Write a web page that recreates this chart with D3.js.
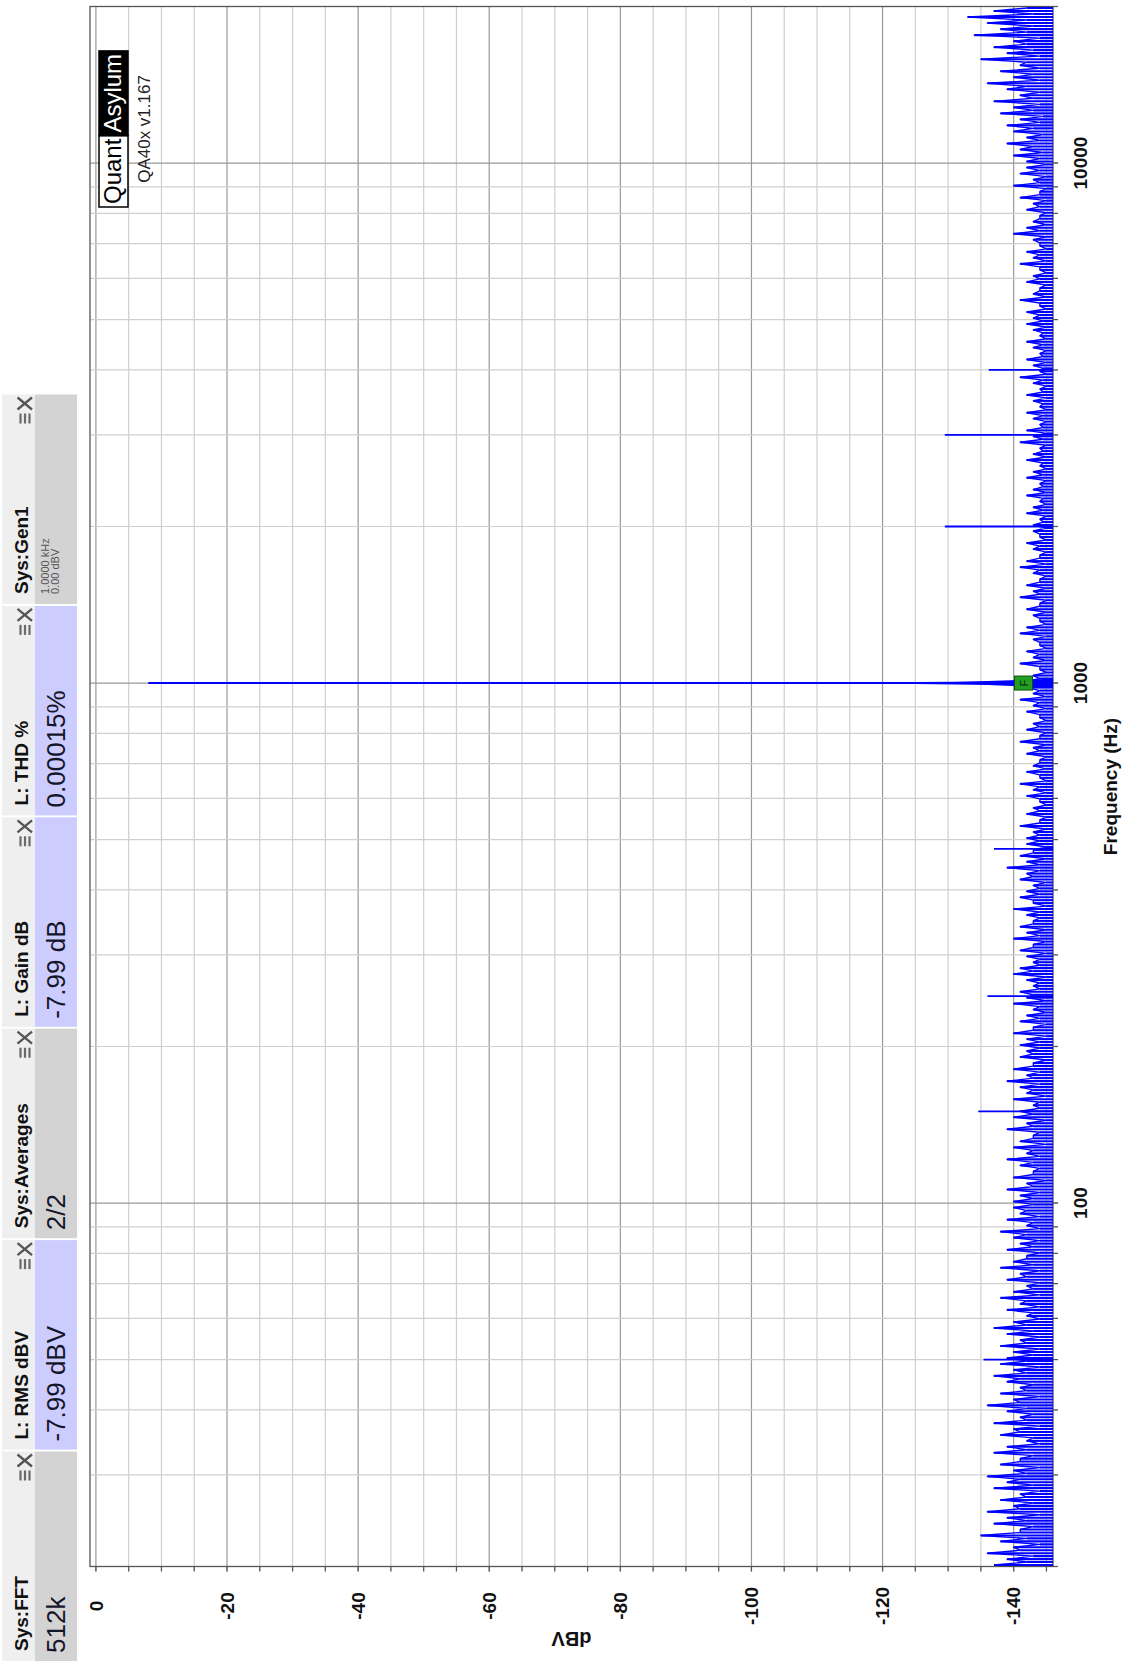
<!DOCTYPE html>
<html><head><meta charset="utf-8">
<script src="https://cdn.jsdelivr.net/npm/d3@7"></script>
<style>body{margin:0;background:#fff;} svg{display:block;font-family:"Liberation Sans",Arial,sans-serif;}</style>
</head><body>
<svg id="c" width="1127" height="1665"></svg>
<script>
// ---------- data ----------
const panelTitles = ["Sys:FFT", "L: RMS dBV", "Sys:Averages", "L: Gain dB", "L: THD %", "Sys:Gen1"];
const panelValues = ["512k", "-7.99 dBV", "2/2", "-7.99 dB", "0.00015%", ""];
const panelKinds  = ["sys", "ch", "sys", "ch", "ch", "sys"];
const gen1Lines   = ["1.0000 kHz", "0.00 dBV"];
const freqTickLabels = [100, 1000, 10000];
const dbTickLabels = [0, -20, -40, -60, -80, -100, -120, -140];
const freqDomain = [20, 20000];
const dbDomain = [0.9, -146];

const fundamentalF  = [985, 990, 995, 998, 999.5, 1000, 1000.5, 1002, 1005, 1010, 1015];
const fundamentalDb = [-146, -141, -136, -131, -125, -7.99, -125, -131, -136, -141, -146];

const spikeFreqs = [50, 150, 250, 480, 2000, 3000, 4000];
const spikeDb    = [-135.4, -134.6, -136, -137, -129.5, -129.5, -136.2];

const noiseRanges = [[20,50],[50,100],[100,200],[200,500],[500,1000],[1000,2000],[2000,5000],[5000,10000],[10000,20000]];
const noise20 = [-137,-142,-139,-143,-136,-141,-140,-144,-138,-142,-135,-141,-141,-143,-137,-142,-139,-144,-136,-141,
 -140,-143,-138,-142,-141,-144,-137,-143,-139,-141,-136,-142,-140,-144,-138,-141,-141,-143,-137,-142,
 -139,-144,-142,-143,-138,-141,-140,-144,-137,-142,-141,-143,-139,-142,-136,-141,-140,-144,-138,-142,
 -141,-143,-139,-141,-137,-142,-140,-144,-138,-142];
const noise50 = [-139,-143,-140,-144,-138,-142,-141,-144,-139,-143,-137,-142,-140,-144,-142,-143,-139,-144,-141,-142,
 -138,-144,-140,-143,-142,-144,-139,-142,-141,-144,-138,-143,-140,-142,-142,-144,-139,-143,-141,-144,
 -140,-142,-138,-144,-142,-143,-139,-144,-141,-142,-140,-143];
const noise100 = [-140,-143,-141,-144,-139,-143,-142,-145,-140,-143,-143,-144,-141,-143,-139,-144,-142,-143,-140,-145,
 -141,-143,-143,-144,-139,-143,-142,-145,-140,-143,-141,-144,-143,-144,-140,-145,-142,-143,-141,-144,
 -139,-143,-142,-144,-140,-143,-143,-145,-141,-143,-142,-144];
const noise200 = [-141,-144,-142,-145,-140,-143,-143,-145,-141,-144,-142,-145,-143,-144,-140,-145,-142,-143,-141,-144,
 -143,-144,-142,-145,-140,-143,-141,-144,-143,-144,-142,-145,-141,-143,-143,-145,-140,-144,-142,-145,
 -141,-143,-143,-144,-142,-144,-140,-145,-143,-143,-141,-144,-142,-144,-143,-145,-141,-143,-142,-144,
 -139,-144,-142,-145,-141,-143,-143,-145,-142,-144];
const noise500 = [-142,-144,-143,-145,-141,-144,-144,-145,-142,-144,-143,-145,-144,-144,-142,-145,-143,-144,-141,-145,
 -144,-144,-142,-145,-143,-144,-144,-145,-142,-144,-143,-145,-141,-144,-144,-145,-142,-144,-143,-145,
 -144,-144,-142,-145,-143,-144,-141,-145,-143,-144,-142,-145];
const noise1k = [-142,-144,-143,-145,-144,-144,-141,-145,-143,-144,-142,-145,-144,-144,-143,-145,-141,-144,-142,-145,
 -144,-144,-143,-145,-142,-144,-144,-145,-141,-144,-143,-145,-142,-144,-144,-145,-143,-144,-141,-145,
 -142,-144,-144,-145,-143,-144,-142,-145,-144,-144,-143,-145];
const noise2k = [-143,-144.5,-144,-145,-142,-144.5,-143,-145,-144,-144.5,-142,-145,-143,-144.5,-144,-145,-142,-144.5,-143,-145,
 -144,-144.5,-142,-145,-143,-144.5,-144,-145,-141,-144.5,-143,-145,-142,-144.5,-144,-145,-143,-144.5,-142,-145,
 -144,-144.5,-143,-145,-142,-144.5,-144,-145,-143,-144.5,-141,-145,-144,-144.5,-143,-145,-142,-144.5,-144,-145,
 -143,-144.5,-142,-145,-144,-144.5,-143,-145,-142,-144.5];
const noise5k = [-143,-144,-142,-145,-144,-144,-141,-145,-143,-144,-144,-145,-142,-144,-143,-145,-144,-144,-141,-145,
 -143,-144,-142,-145,-144,-144,-143,-145,-140,-144,-142,-145,-143,-144,-144,-145,-142,-144,-143,-145,
 -141,-144,-144,-145,-140,-144,-143,-145,-141,-144,-142,-145];
const noise10k = [-142,-144,-140,-144.5,-141,-143,-139,-144,-142,-144.5,-140,-143,-139,-144,-141,-144.5,-138,-143,-140,-144,
 -137,-143,-141,-144,-139,-142,-136,-144,-140,-143,-138,-144,-141,-142,-135,-144,-139,-143,-137,-142,
 -140,-144,-134,-142,-138,-143,-136,-142,-133,-143,-137,-142];
const noiseSeries = [noise20, noise50, noise100, noise200, noise500, noise1k, noise2k, noise5k, noise10k];

// ---------- layout ----------
const plot = {x0: 98.5, x1: 1658.5, y0: 90, y1: 1053};
const svg = d3.select("#c");
const g = svg.append("g").attr("transform", "translate(0,1665) rotate(-90)");

const x = d3.scaleLog().domain(freqDomain).range([plot.x0, plot.x1]);
const y = d3.scaleLinear().domain(dbDomain).range([plot.y0, plot.y1]);

// ---------- panel ----------
const segStart = 4, segStep = 211.4, segW = 209.5;
panelTitles.forEach((t, i) => {
  const sx = segStart + i * segStep;
  const pg = g.append("g");
  pg.append("rect").attr("x", sx).attr("y", 2).attr("width", segW).attr("height", 33).attr("fill", "#efefef");
  pg.append("rect").attr("x", sx).attr("y", 35).attr("width", segW).attr("height", 42)
    .attr("fill", panelKinds[i] === "ch" ? "#ccccff" : "#d3d3d3");
  pg.append("text").attr("x", sx + 10).attr("y", 28).attr("font-size", 19).attr("font-weight", "bold")
    .attr("fill", "#111").text(t);
  if (panelValues[i]) {
    pg.append("text").attr("x", sx + 8).attr("y", 65).attr("font-size", 26).attr("fill", "#15152a").text(panelValues[i]);
  }
  const ex = sx + segW;
  [20.5, 25, 29.5].forEach(yy => pg.append("line").attr("x1", ex - 29).attr("x2", ex - 19)
    .attr("y1", yy).attr("y2", yy).attr("stroke", "#6a6a6a").attr("stroke-width", 2.2));
  pg.append("path").attr("d", `M${ex-15},${17.5}L${ex-3},${32}M${ex-3},${17.5}L${ex-15},${32}`)
    .attr("stroke", "#555").attr("stroke-width", 2.3).attr("fill", "none");
});
{
  const sx = segStart + 5 * segStep;
  gen1Lines.forEach((t, k) => g.append("text").attr("x", sx + 10).attr("y", 49 + k * 10)
    .attr("font-size", 11).attr("fill", "#555").text(t));
}

// ---------- grid ----------
const grid = g.append("g");
const dbGrid = d3.range(0, -146, -5);
dbGrid.forEach(v => {
  const major = v % 20 === 0;
  grid.append("line").attr("x1", plot.x0 - 5).attr("x2", plot.x1).attr("y1", y(v)).attr("y2", y(v))
    .attr("stroke", major ? "#999" : "#cfcfcf").attr("stroke-width", 1.2);
  grid.append("line").attr("x1", plot.x0 - 5).attr("x2", plot.x0).attr("y1", y(v)).attr("y2", y(v))
    .attr("stroke", "#555").attr("stroke-width", 1.2);
});
const fGrid = [];
[10, 100, 1000, 10000].forEach(d => { for (let m = 1; m <= 9; m++) { const f = d * m; if (f >= 20 && f <= 20000) fGrid.push(f); } });
fGrid.forEach(f => {
  const major = freqTickLabels.includes(f);
  grid.append("line").attr("x1", x(f)).attr("x2", x(f)).attr("y1", plot.y0).attr("y2", plot.y1 + 5)
    .attr("stroke", major ? "#999" : "#cfcfcf").attr("stroke-width", 1.2);
  grid.append("line").attr("x1", x(f)).attr("x2", x(f)).attr("y1", plot.y1).attr("y2", plot.y1 + 5)
    .attr("stroke", "#555").attr("stroke-width", 1.2);
});
g.append("rect").attr("x", plot.x0).attr("y", plot.y0).attr("width", plot.x1 - plot.x0).attr("height", plot.y1 - plot.y0)
  .attr("fill", "none").attr("stroke", "#555").attr("stroke-width", 1.3);

// ---------- trace ----------
g.append("clipPath").attr("id", "clip").append("rect").attr("x", plot.x0).attr("y", plot.y0)
  .attr("width", plot.x1 - plot.x0).attr("height", plot.y1 - plot.y0);
const tr = g.append("g").attr("clip-path", "url(#clip)");
const pts = [];
noiseSeries.forEach((arr, s) => {
  const [f0, f1] = noiseRanges[s];
  arr.forEach((v, k) => pts.push({f: f0 * Math.pow(f1 / f0, (k + 0.5) / arr.length), v}));
});
const floorY = y(dbDomain[1]) + 4;
tr.selectAll("line.stem").data(pts).join("line").attr("class", "stem")
  .attr("x1", d => x(d.f)).attr("x2", d => x(d.f)).attr("y1", floorY).attr("y2", d => y(d.v))
  .attr("stroke", "#0000ff").attr("stroke-width", 2.1);
tr.append("path").datum(pts).attr("fill", "none").attr("stroke", "#0000ff").attr("stroke-width", 1.4)
  .attr("stroke-linejoin", "round").attr("d", d3.line().x(d => x(d.f)).y(d => y(d.v)));
tr.selectAll("line.spike").data(spikeFreqs).join("line").attr("class", "spike")
  .attr("x1", d => x(d)).attr("x2", d => x(d)).attr("y1", floorY).attr("y2", (d, i) => y(spikeDb[i]))
  .attr("stroke", "#0000ff").attr("stroke-width", 1.8);
tr.append("path").datum(fundamentalF.map((f, i) => ({f, v: fundamentalDb[i]})))
  .attr("fill", "#0000ff").attr("stroke", "#0000ff").attr("stroke-width", 1.9)
  .attr("d", d3.line().x(d => x(d.f)).y(d => y(d.v)));

// marker
const mx = x(1000), my = y(-141.5);
g.append("rect").attr("x", mx - 7).attr("y", my - 9).attr("width", 14).attr("height", 18)
  .attr("fill", "#23a023").attr("stroke", "#0f500f").attr("stroke-width", 1);
g.append("text").attr("x", mx).attr("y", my + 4).attr("text-anchor", "middle").attr("font-size", 11)
  .attr("fill", "#0a2a0a").text("F");

// ---------- axis labels ----------
dbTickLabels.forEach(v => g.append("text").attr("x", 59).attr("y", y(v)).attr("dy", "0.35em")
  .attr("text-anchor", "middle").attr("font-size", 19).attr("font-weight", "bold").attr("fill", "#111").text(v));
freqTickLabels.forEach(f => g.append("text").attr("x", x(f)).attr("y", 1087)
  .attr("text-anchor", "middle").attr("font-size", 19).attr("font-weight", "bold").attr("fill", "#111").text(f));
g.append("text").attr("x", (plot.x0 + plot.x1) / 2).attr("y", 1117).attr("text-anchor", "middle")
  .attr("font-size", 19).attr("font-weight", "bold").attr("fill", "#111").text("Frequency (Hz)");
g.append("text").attr("transform", `translate(33,${(plot.y0 + plot.y1) / 2}) rotate(-90)`)
  .attr("text-anchor", "middle").attr("font-size", 20).attr("font-weight", "bold").attr("fill", "#111").text("dBV");

// ---------- logo ----------
const lx = 1458, ly = 99, lh = 29;
const q = g.append("text").attr("x", lx + 3).attr("y", ly + 22).attr("font-size", 24).attr("fill", "#000").text("Quant");
const qw = q.node().getComputedTextLength() + 6;
g.insert("rect", "text:last-child").attr("x", lx).attr("y", ly).attr("width", qw).attr("height", lh)
  .attr("fill", "#fff").attr("stroke", "#000").attr("stroke-width", 1.5);
q.raise();
const a = g.append("text").attr("x", lx + qw + 3).attr("y", ly + 22).attr("font-size", 24).attr("fill", "#fff").text("Asylum");
const aw = a.node().getComputedTextLength() + 6;
g.insert("rect", "text:last-child").attr("x", lx + qw).attr("y", ly).attr("width", aw).attr("height", lh)
  .attr("fill", "#000").attr("stroke", "#000").attr("stroke-width", 1.5);
a.raise();
g.append("text").attr("x", lx + (qw + aw) / 2).attr("y", 150).attr("text-anchor", "middle")
  .attr("font-size", 17).attr("fill", "#222").text("QA40x v1.167");
</script>
</body></html>
